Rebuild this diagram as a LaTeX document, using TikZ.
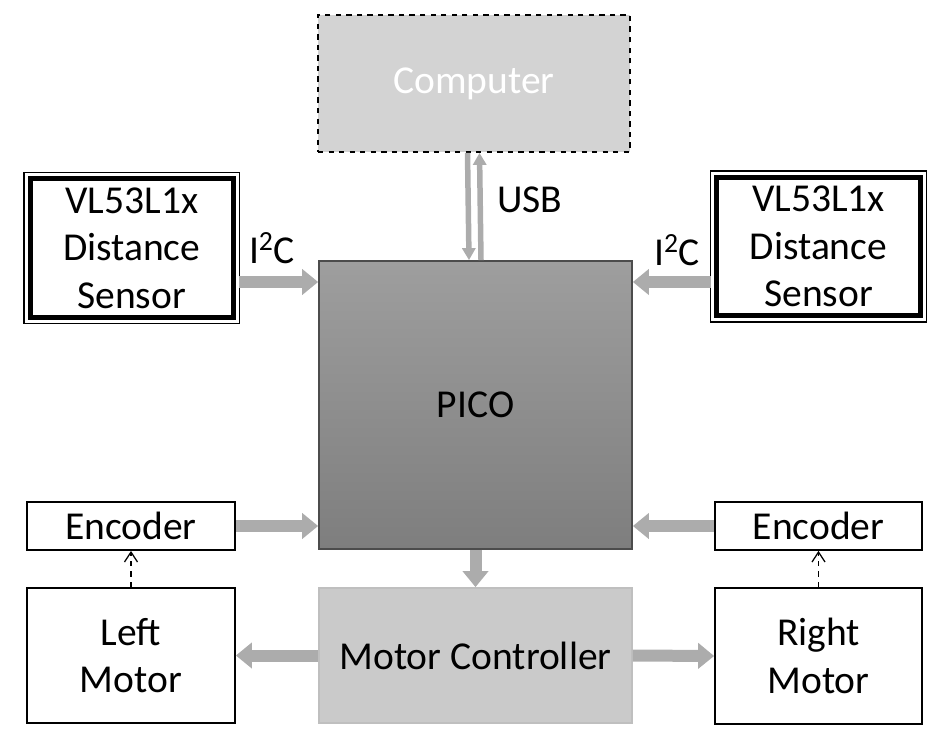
\documentclass[tikz,border=0pt]{standalone}
\usepackage{fontspec}
\setmainfont{Carlito}
\usetikzlibrary{arrows.meta}
\definecolor{fatgray}{RGB}{172,172,172}
\definecolor{compgray}{RGB}{211,211,211}
\definecolor{picotop}{RGB}{158,158,158}
\definecolor{picobot}{RGB}{126,126,126}
\definecolor{mcgray}{RGB}{202,202,202}
\begin{document}
\begin{tikzpicture}[x=0.02cm, y=-0.02cm,
  box/.style={rectangle, draw, line width=0.035cm, inner sep=0pt, align=center, font=\fontsize{22.5}{27}\selectfont},
  sensorbox/.style={box, line width=0.1cm, minimum width=4.07cm, minimum height=2.78cm},
  fat/.style={fatgray, line width=0.24cm, -{Triangle[length=0.32cm, width=0.5cm]}},
  usb/.style={fatgray, line width=0.11cm, -{Triangle[length=0.24cm, width=0.26cm]}},
  txt/.style={font=\fontsize{22.5}{27}\selectfont, inner sep=0pt}]
  \useasboundingbox (0,0) rectangle (945,739);
  % Nodes
  \node (comp) [box, dashed, fill=compgray, text=white, minimum width=6.24cm, minimum height=2.74cm] at (474,83.5) {Computer};
  \node (pico) [box, draw=black!70, top color=picotop, bottom color=picobot, minimum width=6.26cm, minimum height=5.76cm] at (475.5,405) {PICO};
  \node (mc) [box, draw=black!25, fill=mcgray, minimum width=6.26cm, minimum height=2.7cm] at (475.5,655.5) {Motor Controller};
  \node (lsens) [sensorbox] at (131.75,248) {VL53L1x\\Distance\\Sensor};
  \node (rsens) [sensorbox] at (818.5,246.5) {VL53L1x\\Distance\\Sensor};
  \node (lenc) [box, minimum width=4.16cm, minimum height=0.96cm] at (131,526) {Encoder};
  \node (renc) [box, minimum width=4.14cm, minimum height=0.96cm] at (818.5,526) {Encoder};
  \node (lmot) [box, minimum width=4.16cm, minimum height=2.7cm] at (131,655.5) {Left\\Motor};
  \node (rmot) [box, minimum width=4.14cm, minimum height=2.72cm] at (818.5,656) {Right\\Motor};
  % Frames
  \foreach \n in {lsens, rsens}
    \draw[line width=0.025cm] ([shift={(-0.07cm,0.07cm)}]\n.north west) rectangle ([shift={(0.07cm,-0.07cm)}]\n.south east);
  % Labels
  \node (usblabel) [txt, anchor=west] at (497,200) {USB};
  \node (li2c) [txt] at (272,248) {I\textsuperscript{2}C};
  \node (ri2c) [txt] at (677,250) {I\textsuperscript{2}C};
  % Arrows
  \coordinate (lport) at ([shift={(0.07cm,-0.68cm)}]lsens.east);
  \coordinate (rport) at ([shift={(-0.07cm,-0.71cm)}]rsens.west);
  \draw[fat] (lport) -- (lport -| pico.west);
  \draw[fat] (rport) -- (rport -| pico.east);
  \draw[fat] (lenc.east) -- (lenc.east -| pico.west);
  \draw[fat] (renc.west) -- (renc.west -| pico.east);
  \draw[fat] (pico.south) -- (mc.north);
  \draw[fat] (mc.west) -- (lmot.east);
  \draw[fat] (mc.east) -- (rmot.west);
  \draw[usb] ([xshift=-0.13cm]comp.south) -- ([xshift=-0.13cm]pico.north);
  \draw[usb] ([xshift=0.11cm]pico.north) -- ([xshift=0.11cm]comp.south);
  \draw[dashed, line width=0.025cm, -{Straight Barb[length=0.2cm, width=0.26cm]}] (lmot.north) -- (lenc.south);
  \draw[dashed, line width=0.025cm, -{Straight Barb[length=0.2cm, width=0.26cm]}] (rmot.north) -- (renc.south);
\end{tikzpicture}
\end{document}
